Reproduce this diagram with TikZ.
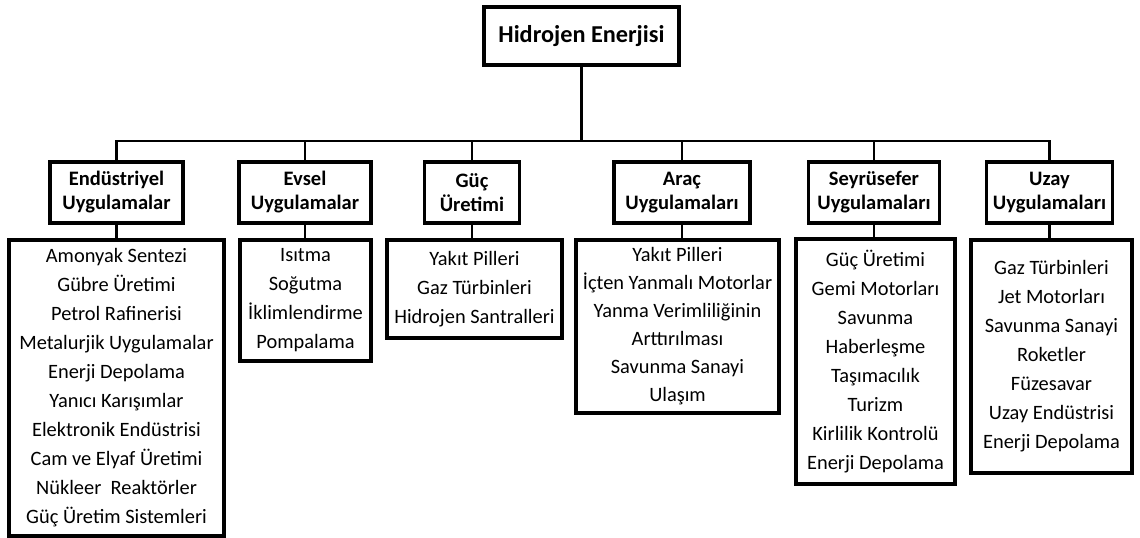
\documentclass[tikz,border=0pt]{standalone}
\usepackage{fontspec}
\setmainfont{Carlito}
\begin{document}
\begin{tikzpicture}[x=0.75pt,y=-0.75pt,
  box/.style={draw, line width=2.4pt, align=center, inner sep=0pt, fill=white},
  conn/.style={line width=2.2pt},
  titlebox/.style={box, font=\fontsize{18.2}{22}\selectfont\bfseries},
  catbox/.style={box, font=\fontsize{15.4}{18}\selectfont\bfseries, minimum height=45.75pt},
  leafbox/.style={box, font=\fontsize{15.3}{21.75}\selectfont}]
\useasboundingbox (0,0) rectangle (1140,538);
\coordinate (bus) at (0,141);
% root
\node[titlebox, minimum width=146.25pt, minimum height=43.5pt] (root) at (581.5,36) {Hidrojen Enerjisi};
% categories
\node[catbox, minimum width=99.75pt] (c1) at (116.5,192.5) {Endüstriyel\\Uygulamalar};
\node[catbox, minimum width=99pt]    (c2) at (305,192.5) {Evsel\\Uygulamalar};
\node[catbox, minimum width=71.25pt] (c3) at (472,192.5) {Güç\\Üretimi};
\node[catbox, minimum width=102pt]   (c4) at (682,192.5) {Araç\\Uygulamaları};
\node[catbox, minimum width=98.25pt] (c5) at (874,192.5) {Seyrüsefer\\Uygulamaları};
\node[catbox, minimum width=94.5pt]  (c6) at (1049.5,192.5) {Uzay\\Uygulamaları};
% leaves
\node[leafbox, minimum width=161.25pt, minimum height=222pt] (l1) at (116.5,388)
  {Amonyak Sentezi\\Gübre Üretimi\\Petrol Rafinerisi\\Metalurjik Uygulamalar\\Enerji Depolama\\Yanıcı Karışımlar\\Elektronik Endüstrisi\\Cam ve Elyaf Üretimi\\Nükleer\ \ Reaktörler\\Güç Üretim Sistemleri};
\node[leafbox, minimum width=98.25pt, minimum height=90.75pt] (l2) at (305.5,300.5)
  {Isıtma\\Soğutma\\İklimlendirme\\Pompalama};
\node[leafbox, minimum width=131.25pt, minimum height=73.5pt] (l3) at (474.5,289)
  {Yakıt Pilleri\\Gaz Türbinleri\\Hidrojen Santralleri};
\node[leafbox, font=\fontsize{15.3}{21}\selectfont, minimum width=152.25pt, minimum height=129.75pt] (l4) at (677.5,326.5)
  {Yakıt Pilleri\\İçten Yanmalı Motorlar\\Yanma Verimliliğinin\\Arttırılması\\Savunma Sanayi\\Ulaşım};
\node[leafbox, minimum width=119.25pt, minimum height=183.75pt] (l5) at (875.5,361.5)
  {Güç Üretimi\\Gemi Motorları\\Savunma\\Haberleşme\\Taşımacılık\\Turizm\\Kirlilik Kontrolü\\Enerji Depolama};
\node[leafbox, minimum width=120.75pt, minimum height=174.75pt] (l6) at (1051.5,356.5)
  {Gaz Türbinleri\\Jet Motorları\\Savunma Sanayi\\Roketler\\Füzesavar\\Uzay Endüstrisi\\Enerji Depolama};
% connectors
\draw[conn] (root.south) -- (root.south |- bus);
\draw[conn] (c1.north) |- (c6.north |- bus) -- (c6.north);
\foreach \i in {2,3,4,5}{\draw[conn] (c\i.north) -- (c\i.north |- bus);}
\foreach \i in {1,...,6}{\draw[conn] (c\i.south) -- (c\i.south |- l\i.north);}
\end{tikzpicture}
\end{document}
